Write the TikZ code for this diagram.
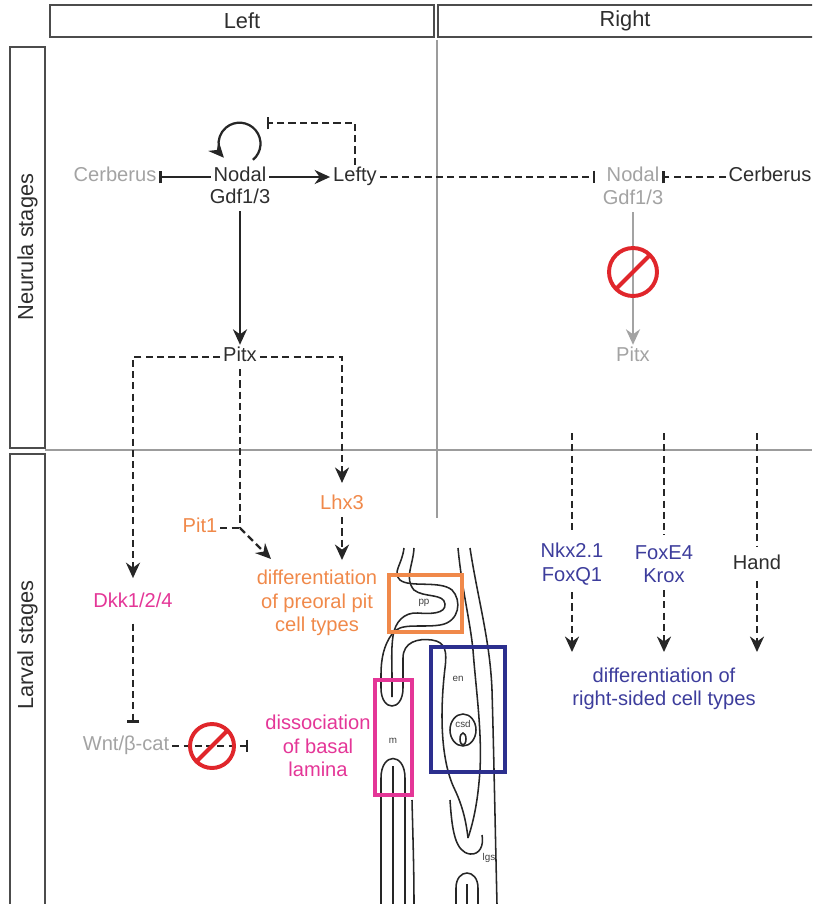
\documentclass[tikz,border=0pt]{standalone}
\usepackage{fontspec}
\setmainfont{Liberation Sans}
\usetikzlibrary{arrows.meta,calc}

\definecolor{txtgray}{HTML}{A3A3A3}
\definecolor{linegray}{HTML}{9C9C9C}
\definecolor{pitorange}{HTML}{F0894A}
\definecolor{lamm}{HTML}{E43697}
\definecolor{rsblue}{HTML}{3D3D9C}
\definecolor{boxblue}{HTML}{2C2F8E}
\definecolor{stopred}{HTML}{E0262B}

\tikzset{
  lbl/.style={font=\fontsize{14.3}{16.7}\selectfont, text=black!82, align=center, inner sep=2pt},
  word/.style={lbl, text height=10pt, text depth=3pt},
  head/.style={lbl, font=\fontsize{15.5}{18}\selectfont},
  act/.style={line width=1.6pt, draw=black!85, -{Stealth[length=11pt,width=10pt]}},
  inh/.style={line width=1.6pt, draw=black!85, -{Bar[width=9pt]}},
  dsh/.style={dash pattern=on 5pt off 3pt},
  stagebox/.style={line width=1.5pt, draw=black!70},
  tube/.style={line width=1.1pt, black!85},
  nosign/.style={line width=2.8pt, stopred},
  tiny/.style={font=\fontsize{7}{7}\selectfont, text=black!75, inner sep=0pt},
}

\begin{document}
\begin{tikzpicture}[x=0.025cm, y=0.025cm]
			\clip (0,0) rectangle (812,-904);
			
			%%frames
			\draw[stagebox] (50,-5) rectangle (434,-37);
			\draw[stagebox] (438,-5) rectangle (820,-37);
			\draw[stagebox] (10,-47) rectangle (45,-448);
			\draw[stagebox] (10,-454) rectangle (45,-910);
			\node[head] (hleft) at (242,-21) {Left};
			\node[head] (hright) at (625,-21) {Right};
			\node[head, rotate=90] (neurula) at (27.5,-247) {Neurula stages};
			\node[head, rotate=90] (larval) at (27.5,-645) {Larval stages};
			
			\draw[linegray, line width=1.1pt] (437,-40) -- (437,-518);
			\draw[linegray, line width=1.1pt] (45,-450) -- (812,-450);
			
			%%neurula, left
			\node[word, text=txtgray] (cerbL) at (115,-177) {Cerberus};
			\node[word] (nodalL) at (240,-177) {Nodal};
			\node[word] (gdfL) at (240,-199) {Gdf1/3};
			\node[word] (lefty) at (355,-177) {Lefty};
			\node[word] (pitxL) at (240,-357) {Pitx};
			\coordinate (loopR) at (267,-123);
			
			\draw[act] ([shift={(13,5)}]nodalL.north) arc[start angle=-50, end angle=222, radius=21];
			\draw[inh, dsh] (lefty.north) |- (loopR);
			\draw[act] (nodalL) -- (lefty);
			\draw[inh] (nodalL) -- (cerbL);
			\draw[act] (gdfL) -- (pitxL);
			
			%%neurula, right
			\node[word, text=txtgray] (nodalR) at (633,-177) {Nodal};
			\node[word, text=txtgray] (gdfR) at (633,-200) {Gdf1/3};
			\node[word] (cerbR) at (770,-177) {Cerberus};
			\node[word, text=txtgray] (pitxR) at (633,-357) {Pitx};
			
			\draw[inh, dsh, shorten >=6pt] (lefty) -- (nodalR);
			\draw[inh, dsh] (cerbR) -- (nodalR);
			\draw[act, draw=txtgray] (gdfR) -- (pitxR);
			
			%%larval, left
			\node[word, text=lamm] (dkk) at (133,-603) {Dkk1/2/4};
			\node[word, text=pitorange] (lhx3) at (342,-505) {Lhx3};
			\node[word, text=pitorange] (pit1) at (200,-528) {Pit1};
			\node[lbl, text=pitorange] (diffpit) at (317,-603) {differentiation\\of preoral pit\\cell types};
			\node[word, text=txtgray] (wnt) at (126,-746) {Wnt/β-cat};
			\node[lbl, text=lamm] (diss) at (318,-746) {dissociation\\of basal\\lamina};
			\coordinate (pj) at (240,-528);
			\coordinate (pjtip) at (271,-559);
			
			\draw[act, dsh, shorten >=9pt] (pitxL) -| (dkk);
			\draw[act, dsh, shorten >=7pt] (pitxL) -| (lhx3);
			\draw[line width=1.6pt, black!85, dsh] (pitxL) -- (pj);
			\draw[line width=1.6pt, black!85, dsh] (pit1) -- (pj);
			\draw[act, dsh] (pj) -- (pjtip);
			\draw[act, dsh, shorten >=5pt] (lhx3) -- (lhx3 |- diffpit.north);
			\draw[inh, dsh, shorten <=6pt, shorten >=8pt] (dkk) -- (dkk |- wnt.north);
			\draw[inh, dsh, shorten >=10pt] (wnt) -- (diss);
			
			%%larval, right
			\node[lbl, text=rsblue] (nkx) at (572,-564) {Nkx2.1\\FoxQ1};
			\node[lbl, text=rsblue] (foxe) at (664,-564) {FoxE4\\Krox};
			\node[word] (hand) at (757,-565) {Hand};
			\node[lbl, text=rsblue] (diffrs) at (664,-689) {differentiation of\\right-sided cell types};
			\foreach \g/\x in {nkx/572, foxe/664, hand/757}
			{
				\coordinate (top-\g) at (\x,-433);
				\coordinate (tip-\g) at (\x,-652);
				\draw[line width=1.6pt, black!85, dsh, shorten >=5pt] (top-\g) -- (\g);
				\draw[act, dsh, shorten <=3pt] (\g) -- (tip-\g);
			}
			
			%%section of the larva
			\draw[tube] (404,-548) .. controls (402,-565) and (392,-572) .. (400,-580)
				.. controls (410,-588) and (440,-580) .. (452,-590)
				.. controls (462,-600) and (460,-622) .. (440,-625)
				.. controls (420,-628) and (400,-622) .. (392,-634)
				.. controls (384,-645) and (381,-658) .. (381,-675)
				-- (381,-688) .. controls (381,-712) and (403,-712) .. (403,-688)
				-- (403,-658) .. controls (403,-642) and (418,-638) .. (432,-640)
				.. controls (446,-642) and (447,-652) .. (445,-668)
				.. controls (440,-710) and (440,-760) .. (455,-790)
				.. controls (462,-805) and (466,-820) .. (468,-838);
			\draw[tube] (414,-548) .. controls (413,-566) and (404,-578) .. (414,-590)
				.. controls (424,-598) and (444,-593) .. (445,-604)
				.. controls (446,-614) and (430,-614) .. (418,-613)
				.. controls (404,-612) and (395,-622) .. (393,-636)
				.. controls (391,-650) and (392,-665) .. (392,-675) -- (392,-697);
			\draw[tube] (458,-548) .. controls (462,-590) and (470,-620) .. (473,-650)
				.. controls (476,-690) and (482,-730) .. (480,-770)
				.. controls (478,-800) and (474,-820) .. (468,-838);
			\draw[tube] (470,-548) .. controls (478,-600) and (490,-640) .. (492,-690)
				.. controls (494,-760) and (495,-820) .. (497,-904);
			\draw[tube] (463,-730) ellipse[x radius=13, y radius=16];
			\draw[tube] (463,-739) ellipse[x radius=3, y radius=6];
			\draw[tube] (381,-904) -- (381,-778) .. controls (381,-752) and (405,-752) .. (405,-778) -- (405,-904);
			\draw[tube] (393,-766) -- (393,-904);
			\draw[tube] (412,-800) .. controls (413,-840) and (414,-870) .. (414,-904);
			\draw[tube] (450,-800) .. controls (452,-830) and (455,-852) .. (470,-854)
				.. controls (480,-855) and (484,-845) .. (482,-835);
			\draw[tube] (456,-904) -- (456,-888) .. controls (456,-868) and (478,-868) .. (478,-888) -- (478,-904);
			\draw[tube] (467,-884) -- (467,-904);
			
			\node[tiny] (pp) at (424,-603) {pp};
			\node[tiny] (en) at (458,-679) {en};
			\node[tiny] (csd) at (463,-724) {csd};
			\node[tiny] (m) at (393,-741) {m};
			\node[tiny] (lgs) at (489,-858) {lgs};
			
			\draw[line width=2.4pt, pitorange] (389,-575) rectangle (462,-632);
			\draw[line width=2.4pt, lamm] (375,-680) rectangle (412,-795);
			\draw[line width=2.4pt, boxblue] (431,-647) rectangle (505,-772);
			
			%%blocked steps
			\coordinate (stopR) at (633,-272);
			\coordinate (stopL) at (212,-746);
			\foreach \s/\r in {stopR/24, stopL/22}
				\draw[nosign] (\s) circle[radius=\r] ($(\s)+(225:\r)$) -- ($(\s)+(45:\r)$);
		\end{tikzpicture}
\end{document}
